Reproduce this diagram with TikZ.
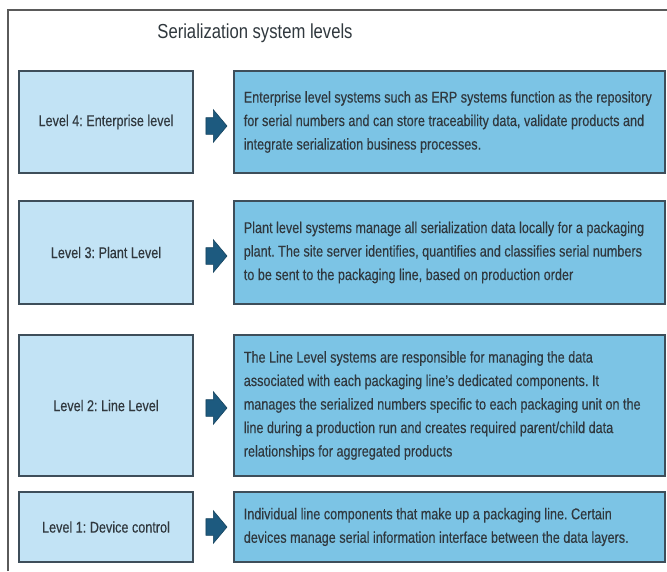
\documentclass[tikz,border=0pt]{standalone}
\usepackage{fontspec}
\setmainfont{Liberation Sans}[FakeStretch=0.81,FakeBold=0.3]
\newfontfamily\headingfont{Liberation Sans}[FakeStretch=0.82]
\usetikzlibrary{shapes.arrows}
\frenchspacing

\definecolor{lightfill}{HTML}{C2E3F5}
\definecolor{midfill}{HTML}{7CC4E5}
\definecolor{edgeline}{HTML}{3E4E5A}
\definecolor{arrowfill}{HTML}{1D5A7F}
\definecolor{ink}{HTML}{30383E}
\definecolor{framegray}{HTML}{5A5A5A}

\begin{document}
\begin{tikzpicture}[x=1pt,y=-1pt,
  levelbox/.style={draw=edgeline, line width=1.8pt, fill=lightfill, text=ink,
    inner sep=0pt, minimum width=174pt,
    font=\fontsize{15.6}{20}\selectfont},
  descbox/.style={draw=edgeline, line width=1.8pt, fill=midfill,
    inner sep=0pt, minimum width=431pt},
  desctext/.style={anchor=west, xshift=10.5pt, inner sep=0pt, text=ink, align=left,
    font=\fontsize{15.6}{23.5}\selectfont},
  flow/.style={single arrow, fill=arrowfill, draw=arrowfill!75!black, line width=0.6pt,
    inner xsep=0pt, inner ysep=8pt, minimum height=21pt,
    single arrow head extend=8pt, single arrow tip angle=100}
]
\useasboundingbox (0,0) rectangle (667,571);
\fill[white] (0,0) rectangle (667,571);

% outer frame, open to the right and bottom
\draw[framegray, line width=1.3pt] (8,571) |- (667,10);

% heading
\node[text=ink, font=\headingfont\fontsize{20.3}{24}\selectfont] (title) at (255,33) {Serialization system levels};

% level 4
\node[levelbox, minimum height=102pt] (l4) at (106,122) {Level 4: Enterprise level};
\node[descbox, minimum height=102pt] (d4) at (449.5,122) {};
\node[desctext] (t4) at (d4.west) {Enterprise level systems such as ERP systems function as the repository\\for serial numbers and can store traceability data, validate products and\\integrate serialization business processes.};
\node[flow] (a4) at (213,126) {};

% level 3
\node[levelbox, minimum height=103pt] (l3) at (106,252.5) {Level 3: Plant Level};
\node[descbox, minimum height=103pt] (d3) at (449.5,252.5) {};
\node[desctext] (t3) at (d3.west) {Plant level systems manage all serialization data locally for a packaging\\plant. The site server identifies, quantifies and classifies serial numbers\\to be sent to the packaging line, based on production order};
\node[flow] (a3) at (213,256) {};

% level 2
\node[levelbox, minimum height=141pt] (l2) at (106,405.5) {Level 2: Line Level};
\node[descbox, minimum height=141pt] (d2) at (449.5,405.5) {};
\node[desctext] (t2) at (d2.west) {The Line Level systems are responsible for managing the data\\associated with each packaging line’s dedicated components. It\\manages the serialized numbers specific to each packaging unit on the\\line during a production run and creates required parent/child data\\relationships for aggregated products};
\node[flow] (a2) at (213,408) {};

% level 1
\node[levelbox, minimum height=70pt] (l1) at (106,527) {Level 1: Device control};
\node[descbox, minimum height=70pt] (d1) at (449.5,527) {};
\node[desctext] (t1) at (d1.west) {Individual line components that make up a packaging line. Certain\\devices manage serial information interface between the data layers.};
\node[flow] (a1) at (213,527) {};
\end{tikzpicture}
\end{document}
